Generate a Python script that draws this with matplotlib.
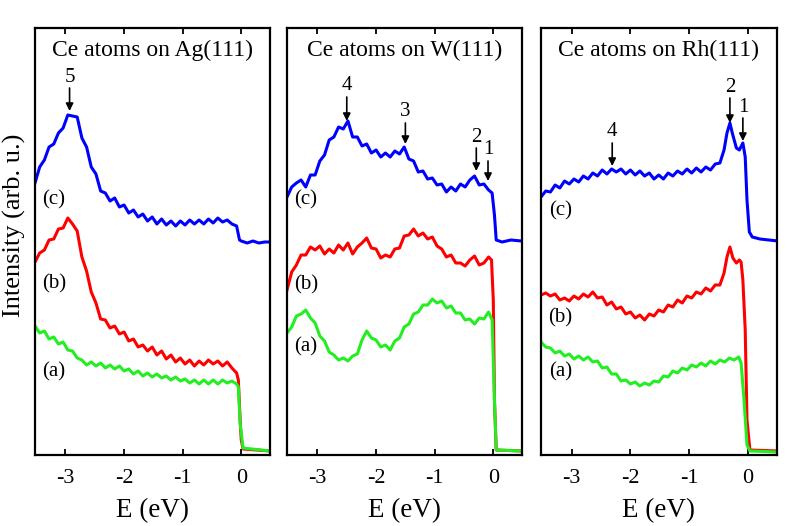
import matplotlib
matplotlib.use("Agg")
import matplotlib.pyplot as plt

plt.rcParams['font.family'] = ['Liberation Serif', 'DejaVu Serif']
plt.rcParams['axes.unicode_minus'] = False

# ---------------- data (energy in eV, intensity in arb. units) ----------------
titles = ["Ce atoms on Ag(111)", "Ce atoms on W(111)", "Ce atoms on Rh(111)"]
xticks = [-3, -2, -1, 0]
xtick_labels = ["-3", "-2", "-1", "0"]

# common energy sampling of the valence-band region
grid = [-3.52, -3.44, -3.36, -3.28, -3.20, -3.12, -3.04, -2.96, -2.88, -2.80, -2.72,
        -2.64, -2.56, -2.48, -2.40, -2.32, -2.24, -2.16, -2.08, -2.00, -1.92, -1.84,
        -1.76, -1.68, -1.60, -1.52, -1.44, -1.36, -1.28, -1.20, -1.12, -1.04, -0.96,
        -0.88, -0.80, -0.72, -0.64, -0.56, -0.48, -0.40, -0.32, -0.24, -0.16, -0.08]

# ---- Ag(111)
ag_c_I = [272, 288, 295, 308, 311, 322, 327, 340, 339, 338, 317,
          308, 288, 281, 264, 262, 254, 257, 248, 250, 242, 245,
          238, 241, 234, 238, 231, 236, 230, 234, 229, 234, 230,
          235, 231, 235, 231, 236, 232, 237, 233, 235, 231, 229]
ag_c_tailE = [-0.03, 0.0, 0.1, 0.2, 0.3, 0.4, 0.49]
ag_c_tailI = [215, 214, 212, 214, 212, 213, 213]

ag_b_I = [193, 202, 205, 215, 216, 226, 227, 237, 231, 224, 198,
          184, 163, 152, 136, 135, 127, 129, 121, 123, 114, 116,
          108, 110, 104, 108, 100, 104, 96, 100, 93, 97, 91,
          95, 89, 94, 90, 95, 91, 94, 89, 93, 87, 82]
ag_b_tailE = [-0.05, -0.02, 0.0, 0.03, 0.49]
ag_b_tailI = [75, 35, 15, 6, 4]

ag_a_I = [129, 122, 124, 116, 118, 111, 113, 105, 104, 97, 95,
          90, 93, 89, 92, 87, 90, 86, 89, 84, 86, 81,
          84, 79, 82, 78, 81, 77, 79, 75, 78, 74, 76,
          72, 75, 71, 75, 71, 75, 71, 75, 72, 74, 71]
ag_a_tailE = [-0.05, -0.02, 0.03, 0.49]
ag_a_tailI = [68, 32, 7, 4]

# ---- W(111)
w_c_I = [258, 268, 272, 275, 268, 280, 280, 294, 300, 315, 318,
         328, 326, 334, 318, 318, 309, 311, 302, 305, 298, 302,
         298, 304, 301, 308, 296, 294, 283, 284, 276, 277, 270,
         271, 263, 268, 264, 271, 268, 275, 279, 270, 271, 265]
w_c_tailE = [-0.02, 0.02, 0.05, 0.15, 0.3, 0.48]
w_c_tailI = [262, 240, 215, 213, 215, 214]

w_b_I = [165, 183, 190, 200, 200, 208, 205, 209, 201, 206, 202,
         210, 205, 212, 201, 208, 212, 217, 207, 206, 197, 200,
         198, 206, 207, 219, 220, 226, 219, 222, 216, 218, 209,
         206, 198, 200, 192, 192, 189, 195, 199, 190, 192, 198]
w_b_tailE = [-0.03, 0.0, 0.02, 0.05, 0.48]
w_b_tailI = [195, 155, 55, 5, 4]

w_a_I = [122, 128, 139, 141, 145, 137, 132, 119, 114, 103, 100,
         95, 97, 94, 99, 101, 115, 124, 117, 115, 108, 110,
         105, 114, 117, 128, 131, 141, 143, 150, 150, 156, 152,
         154, 147, 149, 142, 142, 135, 136, 131, 137, 136, 143]
w_a_tailE = [-0.02, 0.02, 0.05, 0.48]
w_a_tailI = [135, 55, 5, 4]

# ---- Rh(111)  (grid up to -0.48 for (c),(b); up to -0.16 for (a))
rh_c_I = [258, 264, 263, 270, 267, 274, 271, 276, 273, 279, 276,
          282, 279, 285, 281, 286, 283, 286, 281, 285, 280, 284,
          279, 282, 276, 280, 276, 282, 279, 284, 281, 286, 282,
          287, 283, 288, 285, 291, 292]
rh_c_tailE = [-0.41, -0.36, -0.31, -0.27, -0.20, -0.15, -0.09, -0.05, -0.02, 0.02, 0.07, 0.2, 0.35, 0.51]
rh_c_tailI = [305, 322, 332, 322, 307, 305, 312, 298, 255, 223, 218, 216, 215, 214]

rh_b_I = [160, 162, 159, 161, 155, 157, 154, 159, 156, 161, 158,
          163, 157, 158, 150, 153, 146, 148, 141, 143, 137, 140,
          135, 141, 139, 145, 143, 150, 148, 155, 152, 159, 157,
          163, 161, 167, 164, 170, 170]
rh_b_tailE = [-0.41, -0.36, -0.31, -0.26, -0.20, -0.15, -0.12, -0.09, -0.05, -0.02, 0.03, 0.51]
rh_b_tailI = [182, 198, 208, 197, 192, 195, 193, 175, 125, 35, 5, 4]

rh_a_I = [113, 108, 107, 102, 104, 99, 101, 96, 99, 95, 98,
          93, 94, 87, 88, 81, 81, 74, 75, 71, 73, 69,
          72, 70, 74, 73, 79, 78, 84, 82, 87, 85, 90,
          88, 92, 89, 94, 91, 95, 93, 97, 95, 98]
rh_a_tailE = [-0.12, -0.07, -0.02, 0.03, 0.51]
rh_a_tailI = [92, 55, 10, 4, 3]

curve_labels = ["(c)", "(b)", "(a)"]
label_pos = [
    [(-3.20, 255), (-3.20, 171), (-3.20, 83)],
    [(-3.21, 255), (-3.19, 170), (-3.20, 108)],
    [(-3.19, 244), (-3.19, 137), (-3.19, 83)],
]

# arrows: (label, E, label_I, tail_I, tip_I)
arrows = [
    [("5", -2.93, 377, 367, 344)],
    [("4", -2.50, 370, 358, 334), ("3", -1.50, 343, 332, 311),
     ("2", -0.29, 317, 307, 284), ("1", -0.09, 305, 294, 274)],
    [("4", -2.31, 323, 312, 289), ("2", -0.31, 367, 357, 332), ("1", -0.09, 347, 337, 314)],
]

panels = [
    [(grid + ag_c_tailE, ag_c_I + ag_c_tailI),
     (grid + ag_b_tailE, ag_b_I + ag_b_tailI),
     (grid + ag_a_tailE, ag_a_I + ag_a_tailI)],
    [(grid + w_c_tailE, w_c_I + w_c_tailI),
     (grid + w_b_tailE, w_b_I + w_b_tailI),
     (grid + w_a_tailE, w_a_I + w_a_tailI)],
    [(grid[:len(rh_c_I)] + rh_c_tailE, rh_c_I + rh_c_tailI),
     (grid[:len(rh_b_I)] + rh_b_tailE, rh_b_I + rh_b_tailI),
     (grid[:len(rh_a_I)] + rh_a_tailE, rh_a_I + rh_a_tailI)],
]
colors = ["#0000ff", "#ff0000", "#22ee22"]

# ---------------- figure ----------------
W, H = 789, 526
fig = plt.figure(figsize=(W / 100, H / 100), dpi=100)
lefts = [35, 287, 541]
widths = [235, 235, 236]
bottom_px, top_px = 455, 28

for i in range(3):
    ax = fig.add_axes([lefts[i] / W, 1 - bottom_px / H, widths[i] / W, (bottom_px - top_px) / H])
    for (E, I), col in zip(panels[i], colors):
        n = min(len(E), len(I))
        ax.plot(E[:n], I[:n], color=col, lw=2.2, solid_joinstyle='round')
    ax.set_xlim(-3.52, 0.49)
    ax.set_ylim(0, 427)
    ax.set_yticks([])
    ax.set_xticks(xticks)
    ax.set_xticklabels(xtick_labels, fontsize=16)
    ax.tick_params(axis='x', direction='in', top=True, bottom=True, length=4, width=1.3, pad=10)
    for s in ax.spines.values():
        s.set_linewidth(1.6)
    ax.set_xlabel("E (eV)", fontsize=19.5, labelpad=7)
    ax.text(0.5, (bottom_px - 50) / (bottom_px - top_px), titles[i], transform=ax.transAxes,
            ha='center', va='center', fontsize=17)
    for lab, (xe, yi) in zip(curve_labels, label_pos[i]):
        ax.text(xe, yi, lab, ha='center', va='center', fontsize=15)
    for lab, xe, ly, tail, tip in arrows[i]:
        ax.text(xe, ly, lab, ha='center', va='center', fontsize=15)
        ax.annotate('', xy=(xe, tip), xytext=(xe, tail),
                    arrowprops=dict(arrowstyle='-|>', color='k', lw=1.2, mutation_scale=11,
                                    shrinkA=0, shrinkB=0))

fig.text(14 / W, 1 - 225 / H, "Intensity (arb. u.)", rotation=90, ha='center', va='center', fontsize=19)

fig.savefig("out.png", dpi=100)
